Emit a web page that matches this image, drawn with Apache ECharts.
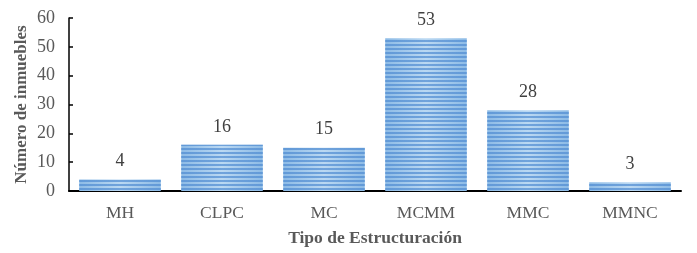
<!DOCTYPE html>
<html>
<head>
<meta charset="utf-8">
<script src="https://cdn.jsdelivr.net/npm/echarts@6/dist/echarts.min.js"></script>
<style>
  html, body { margin: 0; padding: 0; background: #fff; }
  #main { width: 697px; height: 253px; }
</style>
</head>
<body>
<div id="main"></div>
<script>
const categories = ['MH', 'CLPC', 'MC', 'MCMM', 'MMC', 'MMNC']
const values = [4, 16, 15, 53, 28, 3]
const yTicks = [0, 10, 20, 30, 40, 50, 60]

const font = '"Liberation Serif", "Times New Roman", serif'
var myChart = echarts.init(document.getElementById('main'))

var option = {
  animation: false,
  grid: { left: 69, right: 16, top: 18, bottom: 62, outerBoundsMode: 'none' },
  xAxis: {
    type: 'category',
    data: categories,
    name: 'Tipo de Estructuración',
    nameLocation: 'middle',
    nameGap: 38,
    nameMoveOverlap: false,
    nameTextStyle: { fontFamily: font, fontSize: 17.5, fontWeight: 'bold', color: '#595959' },
    axisLine: { lineStyle: { color: '#000', width: 2 } },
    axisTick: { show: false },
    axisLabel: { fontFamily: font, fontSize: 17.5, color: '#595959', margin: 13 }
  },
  yAxis: {
    type: 'value',
    min: yTicks[0],
    max: yTicks[yTicks.length - 1],
    interval: 10,
    name: 'Número de inmuebles',
    nameLocation: 'middle',
    nameGap: 39,
    nameMoveOverlap: false,
    nameTextStyle: { fontFamily: font, fontSize: 17, fontWeight: 'bold', color: '#595959' },
    axisLine: { show: true, lineStyle: { color: '#000', width: 1.5 } },
    axisTick: { show: true, inside: true, length: 4, lineStyle: { color: '#000', width: 1.5 } },
    splitLine: { show: false },
    axisLabel: { fontFamily: font, fontSize: 18, color: '#595959', margin: 14 }
  },
  series: [
    {
      type: 'bar',
      data: values,
      barWidth: '80%',
      itemStyle: {
        color: new echarts.graphic.LinearGradient(0, 0, 1, 0, [
          { offset: 0, color: '#8dbbe6' },
          { offset: 0.5, color: '#bad8f2' },
          { offset: 1, color: '#8dbbe6' }
        ]),
        decal: {
          symbol: 'rect',
          symbolSize: 1,
          dashArrayX: [1, 0],
          dashArrayY: [1.2, 1.8],
          color: 'rgba(80, 140, 210, 0.7)'
        }
      },
      label: {
        show: true,
        position: 'top',
        distance: 9,
        fontFamily: font,
        fontSize: 18,
        color: '#404040'
      }
    }
  ]
}
option && myChart.setOption(option)
</script>
</body>
</html>
